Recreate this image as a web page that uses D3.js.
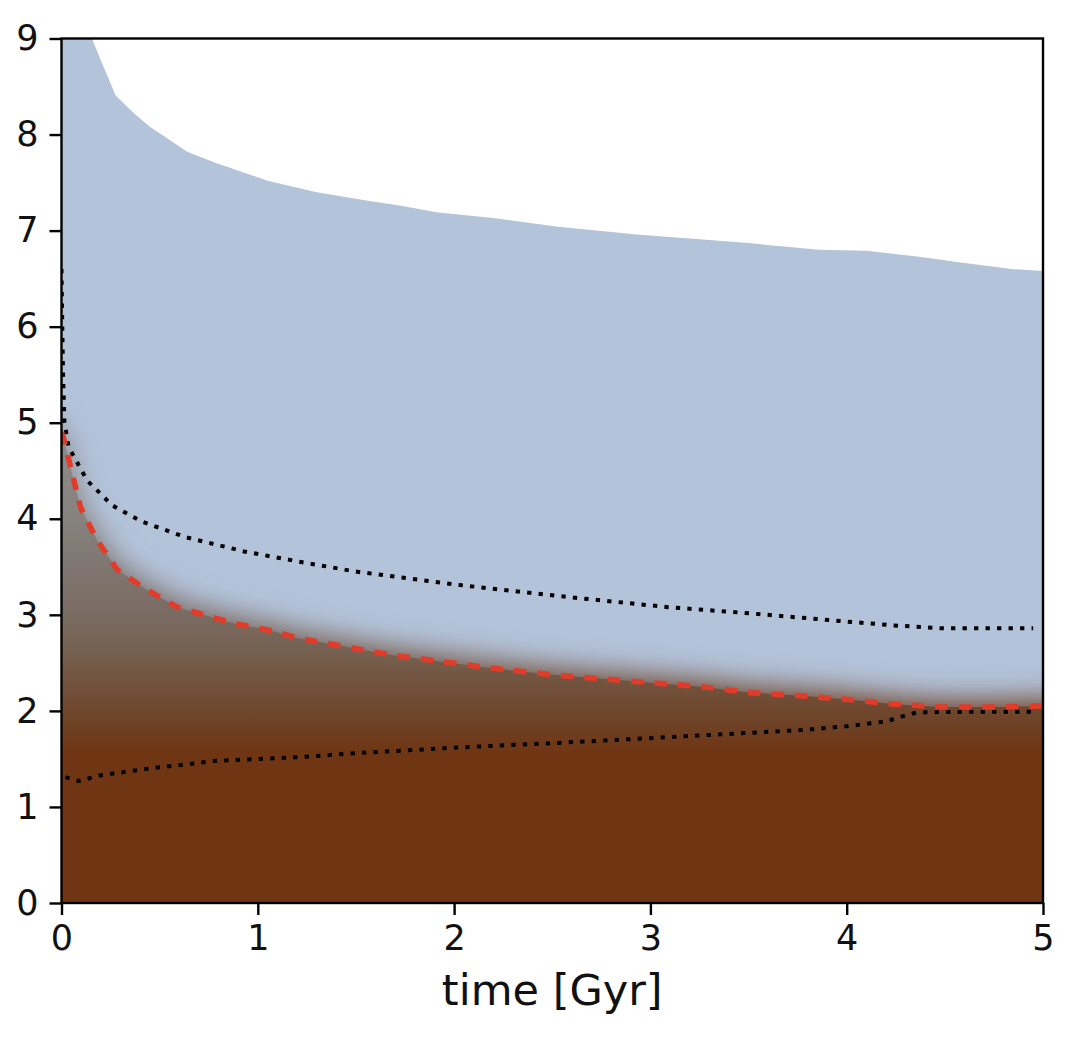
<!DOCTYPE html>
<html>
<head>
<meta charset="utf-8">
<script src="https://cdn.jsdelivr.net/npm/d3@7"></script>
<style>
  html, body { margin: 0; padding: 0; background: #fff; }
  svg { display: block; font-family: "DejaVu Sans", sans-serif; }
  .tick text { font-size: 35px; fill: #111; }
</style>
</head>
<body>
<svg id="chart" width="1086" height="1046"></svg>
<script>
// --- upper edge of the blue (ice) region ---
const topT = [0, 0.155, 0.197, 0.24, 0.275, 0.37, 0.45, 0.54, 0.64, 0.79, 1.05, 1.30, 1.56, 1.73, 1.91, 2.20, 2.53, 2.93, 3.25, 3.50, 3.86, 4.10, 4.36, 4.57, 4.84, 5.0];
const topV = [9.0, 9.0, 8.79, 8.58, 8.41, 8.22, 8.08, 7.96, 7.82, 7.70, 7.52, 7.40, 7.31, 7.26, 7.19, 7.13, 7.04, 6.96, 6.91, 6.87, 6.80, 6.79, 6.73, 6.67, 6.60, 6.58];

// --- red dashed boundary (top of the brown region) ---
const redT = [0, 0.012, 0.046, 0.097, 0.18, 0.284, 0.42, 0.59, 0.88, 1.08, 1.20, 1.44, 1.69, 2.17, 2.53, 2.90, 3.27, 3.51, 3.75, 4.0, 4.24, 4.48, 4.73, 5.0];
const redV = [4.9, 4.83, 4.54, 4.12, 3.78, 3.47, 3.28, 3.08, 2.91, 2.83, 2.76, 2.67, 2.58, 2.45, 2.37, 2.31, 2.25, 2.19, 2.16, 2.12, 2.07, 2.04, 2.04, 2.05];

// --- upper dotted line ---
const upT = [0, 0.004, 0.008, 0.015, 0.036, 0.13, 0.258, 0.41, 0.63, 0.93, 1.22, 1.50, 2.03, 2.56, 3.09, 3.48, 3.77, 4.0, 4.24, 4.48, 4.95];
const upV = [6.6, 6.0, 5.5, 5.0, 4.75, 4.40, 4.14, 3.97, 3.81, 3.66, 3.55, 3.45, 3.31, 3.19, 3.08, 3.02, 2.97, 2.93, 2.89, 2.86, 2.86];

// --- lower dotted line ---
const loT = [0.02, 0.088, 0.2, 0.45, 0.79, 1.22, 1.50, 2.03, 2.56, 3.03, 3.49, 3.77, 4.0, 4.2, 4.31, 4.36, 4.6, 4.97];
const loV = [1.31, 1.27, 1.33, 1.40, 1.48, 1.52, 1.56, 1.62, 1.67, 1.72, 1.77, 1.80, 1.84, 1.89, 1.96, 1.985, 1.99, 1.99];

// colour ramp of the brown region (by height)
const rampH = [0, 1.55, 1.85, 2.2, 2.6, 3.0, 3.5, 4.0, 4.9];
const rampC = ["#703512", "#703512", "#6e4125", "#714f38", "#766050", "#7a6b62", "#7f7670", "#86827e", "#8c8b8a"];

const xTicks = [0, 1, 2, 3, 4, 5];
const yTicks = [0, 1, 2, 3, 4, 5, 6, 7, 8, 9];

const W = 1086, H = 1046;
const m = { left: 61.5, right: 43, top: 38.5, bottom: 143 };

const svg = d3.select("#chart");
const x = d3.scaleLinear().domain([0, 5]).range([m.left, W - m.right]);
const y = d3.scaleLinear().domain([0, 9]).range([H - m.bottom, m.top]);

const zip = (ts, vs) => ts.map((t, i) => [t, vs[i]]);
const topPts = zip(topT, topV);
const redPts = zip(redT, redV);

const defs = svg.append("defs");
defs.append("clipPath").attr("id", "plot")
  .append("rect")
  .attr("x", x(0)).attr("y", y(9))
  .attr("width", x(5) - x(0)).attr("height", y(0) - y(9));

const grad = defs.append("linearGradient").attr("id", "rock")
  .attr("gradientUnits", "userSpaceOnUse")
  .attr("x1", 0).attr("x2", 0)
  .attr("y1", y(0)).attr("y2", y(rampH[rampH.length - 1]));
rampH.forEach((h, i) => {
  grad.append("stop")
    .attr("offset", h / rampH[rampH.length - 1])
    .attr("stop-color", rampC[i]);
});

defs.append("filter").attr("id", "soft")
  .attr("x", "-20%").attr("y", "-20%").attr("width", "140%").attr("height", "140%")
  .append("feGaussianBlur").attr("stdDeviation", 14);

const plot = svg.append("g").attr("clip-path", "url(#plot)");

// blue region
plot.append("path")
  .datum(topPts)
  .attr("fill", "#b3c3da")
  .attr("d", d3.area().x(d => x(d[0])).y0(y(0)).y1(d => y(d[1])));

// brown region, blurred copy for the soft top edge, then the sharp one
const rockArea = d3.area().x(d => x(d[0])).y0(y(-0.5)).y1(d => y(d[1]));
const padded = [[-0.2, redV[0]], ...redPts, [5.2, redV[redV.length - 1]]];
plot.append("path")
  .datum(padded)
  .attr("fill", "url(#rock)")
  .attr("filter", "url(#soft)")
  .attr("transform", "translate(0,-7)")
  .attr("d", rockArea);
plot.append("path")
  .datum(padded)
  .attr("fill", "url(#rock)")
  .attr("d", rockArea);

const line = d3.line().x(d => x(d[0])).y(d => y(d[1]));

plot.append("path")
  .datum(zip(upT, upV))
  .attr("fill", "none").attr("stroke", "#000")
  .attr("stroke-width", 4).attr("stroke-dasharray", "4.3 7.2")
  .attr("d", line);

plot.append("path")
  .datum(zip(loT, loV))
  .attr("fill", "none").attr("stroke", "#000")
  .attr("stroke-width", 4).attr("stroke-dasharray", "4.3 7.2")
  .attr("d", line);

plot.append("path")
  .datum(redPts)
  .attr("fill", "none").attr("stroke", "#e23b2a")
  .attr("stroke-width", 5.5).attr("stroke-dasharray", "12.5 11")
  .attr("d", line);

// axes
const xAxis = svg.append("g")
  .attr("transform", `translate(0,${y(0)})`)
  .call(d3.axisBottom(x).tickValues(xTicks).tickFormat(d3.format("d")).tickSize(12).tickPadding(10));
const yAxis = svg.append("g")
  .attr("transform", `translate(${x(0)},0)`)
  .call(d3.axisLeft(y).tickValues(yTicks).tickFormat(d3.format("d")).tickSize(12).tickPadding(11));
[xAxis, yAxis].forEach(g => {
  g.select(".domain").remove();
  g.selectAll(".tick line").attr("stroke", "#000").attr("stroke-width", 2.4);
  g.selectAll(".tick text").attr("font-family", "DejaVu Sans");
});

svg.append("rect")
  .attr("x", x(0)).attr("y", y(9))
  .attr("width", x(5) - x(0)).attr("height", y(0) - y(9))
  .attr("fill", "none").attr("stroke", "#000").attr("stroke-width", 2.4);

svg.append("text")
  .attr("x", (x(0) + x(5)) / 2).attr("y", 1005)
  .attr("text-anchor", "middle")
  .attr("font-size", 43).attr("fill", "#111")
  .text("time [Gyr]");
</script>
</body>
</html>
